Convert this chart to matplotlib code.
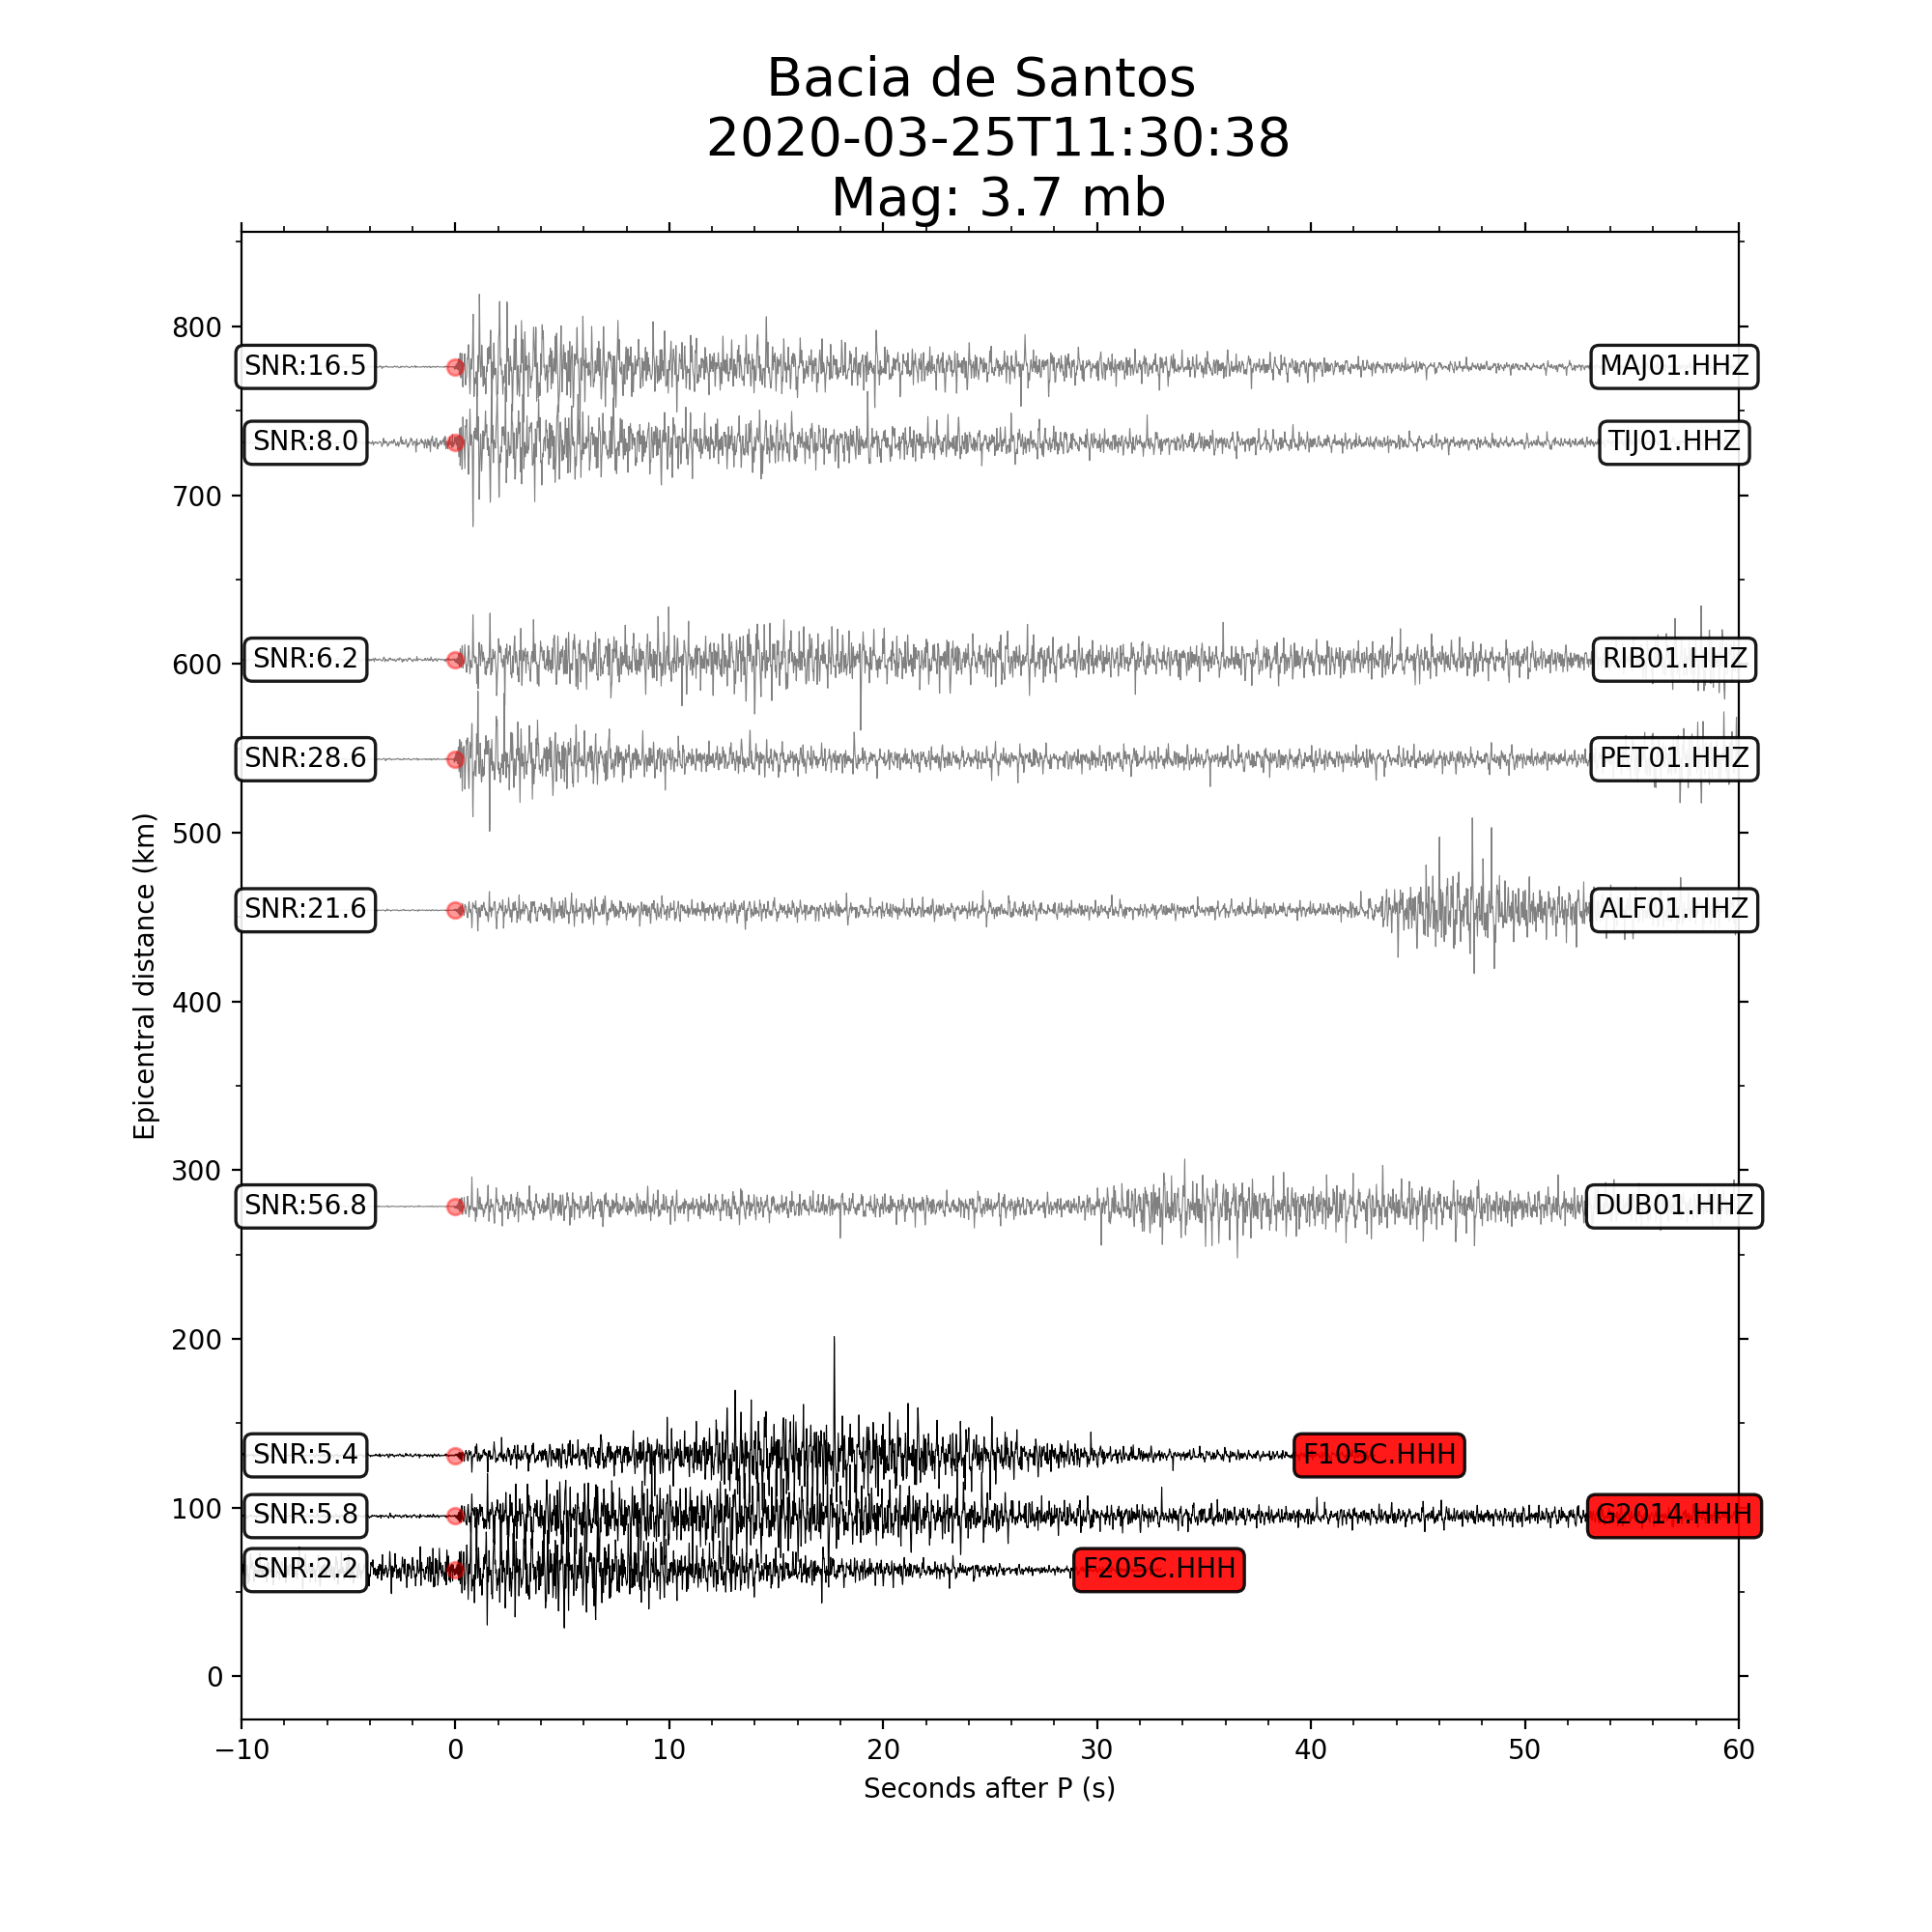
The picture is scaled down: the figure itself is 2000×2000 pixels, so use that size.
import numpy as np
import matplotlib
matplotlib.use("Agg")
import matplotlib.pyplot as plt
from matplotlib.ticker import MultipleLocator

# ---------------- data ----------------
stations = ["MAJ01.HHZ", "TIJ01.HHZ", "RIB01.HHZ", "PET01.HHZ", "ALF01.HHZ",
            "DUB01.HHZ", "F105C.HHH", "G2014.HHH", "F205C.HHH"]
distances = [776, 731, 602.5, 543.5, 454, 278.5, 131, 95, 63]     # km
snr_values = [16.5, 8.0, 6.2, 28.6, 21.6, 56.8, 5.4, 5.8, 2.2]
trace_start = [-10, -10, -10, -10, -10, -10, -10, -10, -11]       # s
trace_end = [60, 60, 60, 60, 60, 60, 43, 60, 33]                  # s
label_x = [57, 57, 57, 57, 57, 57, 43.2, 57, 32.9]                # s

# amplitude envelopes (typical half peak-to-peak, km) at time nodes (s)
env_t_MAJ01 = [-10, -0.1, 0, 1, 2, 4, 6, 10, 15, 20, 25, 30, 35, 40, 45, 50, 55, 60]
env_a_MAJ01 = [0.4, 0.5, 12, 20, 25, 25, 21, 17, 14, 12, 10, 8.5, 7, 5.5, 3.5, 2.5, 2, 2]
env_t_TIJ01 = [-10, -4, -2, -0.3, 0, 2, 4, 6, 10, 15, 20, 25, 30, 35, 40, 45, 50, 55, 60]
env_a_TIJ01 = [0.6, 1, 3, 6, 22, 23, 25, 19, 16, 13, 11, 9, 7, 6, 5, 4, 3, 3, 3]
env_t_RIB01 = [-10, -0.1, 0, 2, 5, 10, 15, 20, 25, 30, 35, 40, 45, 50, 54, 56, 58, 60]
env_a_RIB01 = [0.8, 1.2, 10, 14, 15, 17, 18, 14, 12, 10, 9, 10, 10, 8, 7, 12, 18, 15]
env_t_PET01 = [-10, -0.1, 0, 2, 4, 6, 8, 10, 15, 20, 25, 30, 35, 40, 45, 50, 53, 55, 57, 60]
env_a_PET01 = [0.4, 0.5, 22, 20, 18, 14, 12, 9, 8, 6.5, 6, 6.5, 6, 6.5, 5.5, 5.5, 5, 12, 16, 18]
env_t_ALF01 = [-10, -0.1, 0, 2, 5, 10, 15, 20, 25, 30, 35, 40, 42.5, 44, 46, 47.5, 49, 52, 55, 60]
env_a_ALF01 = [0.3, 0.4, 5, 7, 7, 6, 5.5, 5, 5, 4.5, 4, 4.5, 5, 14, 24, 27, 18, 14, 11, 9]
env_t_DUB01 = [-10, -0.1, 0, 2, 5, 10, 15, 20, 25, 29, 31, 33, 36, 40, 44, 48, 52, 56, 60]
env_a_DUB01 = [0.2, 0.3, 7, 8, 8, 7.5, 7, 7, 6.5, 5.5, 12, 17, 15, 14, 13, 11, 10, 9, 8]
env_t_F105C = [-10, -0.1, 0, 3, 6, 9, 12, 15, 18, 21, 24, 27, 30, 33, 36, 40, 43]
env_a_F105C = [0.8, 1, 4, 6, 8, 12, 18, 26, 26, 20, 14, 10, 6, 3.5, 3, 2.5, 2]
env_t_G2014 = [-10, -0.1, 0, 2, 5, 10, 15, 20, 25, 30, 35, 40, 45, 50, 55, 60]
env_a_G2014 = [0.8, 1, 6, 14, 18, 20, 21, 17, 11, 7, 6, 5, 5, 5.5, 4.5, 4]
env_t_F205C = [-11, -5, -2, 0, 3, 6, 9, 12, 15, 18, 21, 24, 27, 30, 33]
env_a_F205C = [7, 7, 8, 18, 22, 23, 18, 13, 10, 8, 6, 4, 2.5, 2, 1.5]

env_times = [env_t_MAJ01, env_t_TIJ01, env_t_RIB01, env_t_PET01, env_t_ALF01,
             env_t_DUB01, env_t_F105C, env_t_G2014, env_t_F205C]
env_amps = [env_a_MAJ01, env_a_TIJ01, env_a_RIB01, env_a_PET01, env_a_ALF01,
            env_a_DUB01, env_a_F105C, env_a_G2014, env_a_F205C]

title_lines = ["Bacia de Santos ", " 2020-03-25T11:30:38", " Mag: 3.7 mb"]

# ---------------- figure ----------------
fig, ax = plt.subplots(figsize=(10, 10), dpi=200)

# deterministic oscillation used as the waveform carrier (shape only):
# incommensurate frequencies so that no repeating pattern appears
n_comp = 18
golden = 0.6180339887
carrier_freqs = 2.0 * 2.0 ** (np.arange(n_comp) / 5.5) * (1 + 0.05 * np.sin(np.arange(n_comp) * np.e))


def carrier(t, k):
    ph = 2 * np.pi * ((np.arange(n_comp) * golden + 0.37 * k) % 1.0)
    s = np.zeros_like(t)
    for f, p in zip(carrier_freqs * (1 + 0.0173 * np.pi * k / 3), ph):
        s += np.sin(2 * np.pi * f * t + p)
    c = 0.5 * s / np.sqrt(n_comp / 2.0)
    return c * (1 + 0.25 * c ** 2) / 1.25


dt = 0.01
for i, st in enumerate(stations):
    t = np.arange(trace_start[i], trace_end[i] + dt / 2, dt)
    env = np.interp(t, env_times[i], env_amps[i])
    y = distances[i] + env * carrier(t, i)
    is_hhh = st.endswith("HHH")
    col = "k" if is_hhh else "#808080"
    ax.plot(t, y, color=col, lw=0.4, zorder=2)
    ax.plot(0, distances[i], "o", color="red", alpha=0.4, ms=6, mec="red", zorder=3)

    ax.text(-7, distances[i], f"SNR:{snr_values[i]:.1f}", ha="center", va="center",
            fontsize=10, zorder=5,
            bbox=dict(boxstyle="round", facecolor="white", edgecolor="black",
                      alpha=0.9, linewidth=1.2))
    ax.text(label_x[i], distances[i], st, ha="center", va="center",
            fontsize=10, zorder=5,
            bbox=dict(boxstyle="round", facecolor="red" if is_hhh else "white",
                      edgecolor="black", alpha=0.9, linewidth=1.2))

ax.set_xlim(-10, 60)
ax.set_ylim(-25.5, 856)
ax.xaxis.set_major_locator(MultipleLocator(10))
ax.xaxis.set_minor_locator(MultipleLocator(2))
ax.yaxis.set_major_locator(MultipleLocator(100))
ax.yaxis.set_minor_locator(MultipleLocator(50))
ax.tick_params(which="both", direction="out", top=True, right=True)

ax.set_xlabel("Seconds after P (s)")
ax.set_ylabel("Epicentral distance (km)")
ax.set_title("\n".join(title_lines), fontsize=20)

fig.savefig("out.png", dpi=200)
